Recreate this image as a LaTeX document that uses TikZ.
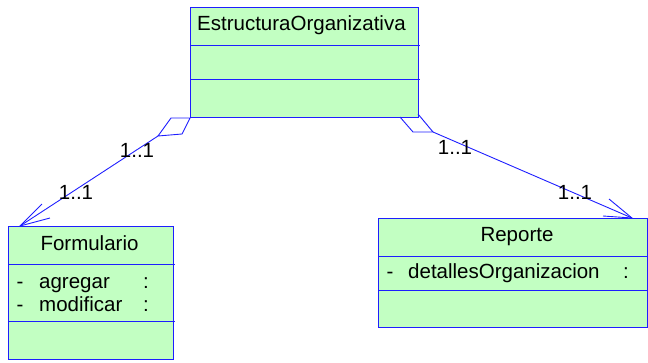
\documentclass[tikz,border=0pt]{standalone}
\usepackage{fontspec}
\setmainfont{Liberation Sans}
\definecolor{umlline}{RGB}{30,30,255}
\definecolor{umlfill}{RGB}{194,255,194}
\begin{document}
\begin{tikzpicture}[x=1pt,y=-1pt,
  classbox/.style={draw=umlline,fill=umlfill,line width=1pt,rectangle,anchor=north west,inner sep=0pt},
  sep/.style={draw=umlline,line width=1pt},
  link/.style={draw=umlline,line width=0.9pt},
  txt/.style={inner sep=0pt,font=\fontsize{20.5}{24}\selectfont},
  mult/.style={txt}]
\useasboundingbox (0,0) rectangle (648,362);

% class boxes
\node[classbox,minimum width=228pt,minimum height=110pt] (eo) at (190,7) {};
\node[classbox,minimum width=165pt,minimum height=133pt] (form) at (8,226) {};
\node[classbox,minimum width=269pt,minimum height=109pt] (rep) at (378,218) {};

% compartment separators
\draw[sep] (190,45) -- (420,45);
\draw[sep] (190,79) -- (420,79);
\draw[sep] (8,264) -- (175,264);
\draw[sep] (8,321) -- (175,321);
\draw[sep] (378,256) -- (648,256);
\draw[sep] (378,290) -- (648,290);

% class names and attributes
\node[txt,anchor=base west] (eoname) at (197,30.5) {EstructuraOrganizativa};
\node[txt,anchor=base] (formname) at (89.5,250.5) {Formulario};
\node[txt,anchor=base] (a1d) at (20,288) {-};
\node[txt,anchor=base west] (a1) at (39,288) {agregar};
\node[txt,anchor=base] (a1c) at (146,288) {:};
\node[txt,anchor=base] (a2d) at (20,311.5) {-};
\node[txt,anchor=base west] (a2) at (39,311.5) {modificar};
\node[txt,anchor=base] (a2c) at (146,311.5) {:};
\node[txt,anchor=base] (repname) at (517,241.5) {Reporte};
\node[txt,anchor=base] (r1d) at (390,278.5) {-};
\node[txt,anchor=base west] (r1) at (408,278.5) {detallesOrganizacion};
\node[txt,anchor=base] (r1c) at (626,278.5) {:};

% aggregation to Formulario
\coordinate (dlA) at (eo.south west);
\coordinate (dlB) at (171,118);
\coordinate (dlC) at (158,136);
\coordinate (dlD) at (182,134);
\coordinate (tl) at (20,226);
\coordinate (wl1) at (42,204);
\coordinate (wl2) at (50,218);
\draw[link] (dlA) -- (dlB) -- (dlC) -- (dlD) -- cycle;
\draw[link] (dlC) -- (tl);
\draw[link] (wl1) -- (tl) -- (wl2);

% aggregation to Reporte
\coordinate (drA) at (400,117);
\coordinate (drB) at (413,132);
\coordinate (drC) at (433,132);
\coordinate (drD) at (418,114);
\coordinate (tr) at (632,218);
\coordinate (wr1) at (609,199);
\coordinate (wr2) at (603,216);
\draw[link] (drA) -- (drB) -- (drC) -- (drD);
\draw[link] (drC) -- (tr);
\draw[link] (wr1) -- (tr) -- (wr2);

% multiplicities
\node[mult] (m1) at (137,150) {1..1};
\node[mult] (m2) at (76,192) {1..1};
\node[mult] (m3) at (455,147) {1..1};
\node[mult] (m4) at (575,192) {1..1};
\end{tikzpicture}
\end{document}
